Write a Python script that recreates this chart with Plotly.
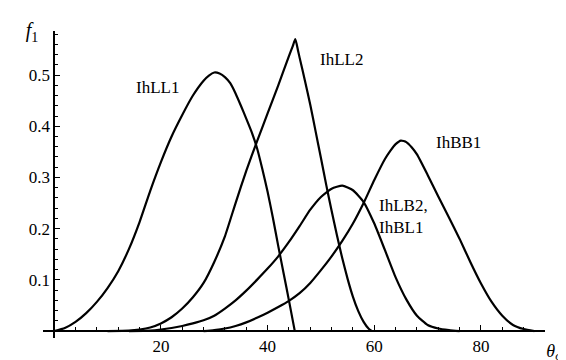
import plotly.graph_objects as go

# ---- data ----
ihll1_x = [0, 2, 4, 6, 8, 10, 12, 14, 16, 18, 20, 22, 24, 26, 28, 29, 30, 31, 32, 33, 34, 35, 36, 37, 38, 39, 40, 41, 42, 43, 44, 45.1]
ihll1_y = [0, 0.006, 0.018, 0.035, 0.057, 0.084, 0.117, 0.16, 0.213, 0.274, 0.33, 0.38, 0.422, 0.46, 0.489, 0.499, 0.505, 0.503, 0.496, 0.484, 0.464, 0.44, 0.415, 0.389, 0.358, 0.317, 0.272, 0.221, 0.166, 0.113, 0.06, 0]

ihll2_x = [10, 14, 16, 18, 20, 22, 24, 26, 28, 30, 32, 34, 36, 38, 40, 42, 44, 44.7, 45.2, 45.7, 46, 47, 48, 49, 50, 51, 52, 53, 54, 55, 56, 57, 58, 59, 59.6]
ihll2_y = [0, 0.001, 0.003, 0.007, 0.015, 0.027, 0.044, 0.066, 0.094, 0.135, 0.185, 0.25, 0.313, 0.37, 0.425, 0.48, 0.537, 0.556, 0.570, 0.548, 0.534, 0.489, 0.442, 0.39, 0.338, 0.285, 0.235, 0.187, 0.142, 0.102, 0.067, 0.039, 0.018, 0.004, 0]

ihlb2_x = [14, 18, 20, 22, 24, 26, 28, 30, 32, 34, 36, 38, 40, 42, 44, 46, 48, 50, 52, 54, 56, 58, 60, 62, 64, 66, 68, 70, 72, 74, 76]
ihlb2_y = [0, 0.001, 0.003, 0.006, 0.01, 0.015, 0.021, 0.03, 0.044, 0.06, 0.079, 0.1, 0.122, 0.146, 0.174, 0.205, 0.237, 0.262, 0.278, 0.284, 0.275, 0.252, 0.21, 0.158, 0.105, 0.062, 0.03, 0.012, 0.005, 0.002, 0]

ihbb1_x = [28, 30, 32, 34, 36, 38, 40, 42, 44, 46, 48, 50, 52, 54, 56, 58, 60, 62, 63, 64, 65, 66, 67, 68, 70, 72, 74, 76, 78, 80, 82, 84, 86, 88, 90]
ihbb1_y = [0, 0.002, 0.005, 0.01, 0.017, 0.026, 0.036, 0.047, 0.059, 0.074, 0.094, 0.119, 0.146, 0.176, 0.21, 0.25, 0.295, 0.336, 0.352, 0.365, 0.372, 0.369, 0.359, 0.345, 0.305, 0.263, 0.222, 0.18, 0.135, 0.093, 0.057, 0.03, 0.012, 0.004, 0]

y_tickvals = [0.1, 0.2, 0.3, 0.4, 0.5]
y_ticktext = ["0.1", "0.2", "0.3", "0.4", "0.5"]
x_tickvals = [20, 40, 60, 80]
x_ticktext = ["20", "40", "60", "80"]

labels = [
    ("IhLL1", 19.4, 0.476, "center"),
    ("IhLL2", 53.9, 0.530, "center"),
    ("IhBB1", 75.7, 0.369, "center"),
    ("IhLB2,<br>IhBL1", 60.5, 0.224, "left"),
]

X_RANGE = [-2.1, 92.0]
Y_RANGE = [-0.0135, 0.586]
FONT = "Liberation Serif, Times New Roman, serif"

fig = go.Figure()
for xs, ys, name in [(ihll1_x, ihll1_y, "IhLL1"), (ihll2_x, ihll2_y, "IhLL2"),
                     (ihlb2_x, ihlb2_y, "IhLB2, IhBL1"), (ihbb1_x, ihbb1_y, "IhBB1")]:
    fig.add_trace(go.Scatter(x=xs, y=ys, mode="lines", name=name,
                             line=dict(color="black", width=2.2, shape="spline", smoothing=0.5)))

for text, x, y, anchor in labels:
    fig.add_annotation(x=x, y=y, text=text, showarrow=False, xanchor=anchor, yanchor="middle",
                       align="left", font=dict(family=FONT, size=17, color="black"))

fig.add_annotation(xref="paper", yref="paper", x=-0.022, y=0.997, xanchor="center", yanchor="middle",
                   text="<i>f</i><sub>1</sub>", width=26, height=26,
                   showarrow=False, font=dict(family=FONT, size=20, color="black"))
fig.add_annotation(xref="paper", yref="paper", x=1.024, y=-0.045, xanchor="center", yanchor="middle",
                   text="<i>θ</i><sub><i>oh</i></sub>", width=32, height=26,
                   showarrow=False, font=dict(family=FONT, size=18, color="black"))

fig.update_layout(
    width=566, height=360,
    margin=dict(l=35, r=29, t=23, b=27),
    paper_bgcolor="white", plot_bgcolor="white",
    showlegend=False,
    font=dict(family=FONT, size=16, color="black"),
    xaxis=dict(range=X_RANGE, showgrid=False, zeroline=False, showline=True, linecolor="black",
               linewidth=1.6, anchor="free", position=0.0135 / 0.5995,
               tickmode="array", tickvals=x_tickvals, ticktext=x_ticktext,
               ticks="inside", ticklen=5, tickcolor="black", tickwidth=1.2,
               minor=dict(ticks="inside", ticklen=3, tickmode="linear", tick0=0, dtick=4,
                          tickcolor="black", tickwidth=1),
               tickfont=dict(family=FONT, size=17)),
    yaxis=dict(range=Y_RANGE, showgrid=False, zeroline=False, showline=True, linecolor="black",
               linewidth=1.6, anchor="free", position=2.1 / 94.1,
               tickmode="array", tickvals=y_tickvals, ticktext=y_ticktext,
               ticks="inside", ticklen=5, tickcolor="black", tickwidth=1.2,
               minor=dict(ticks="inside", ticklen=3, tickmode="linear", tick0=0, dtick=0.02,
                          tickcolor="black", tickwidth=1),
               tickfont=dict(family=FONT, size=17)),
)

fig.write_html("out.html")
